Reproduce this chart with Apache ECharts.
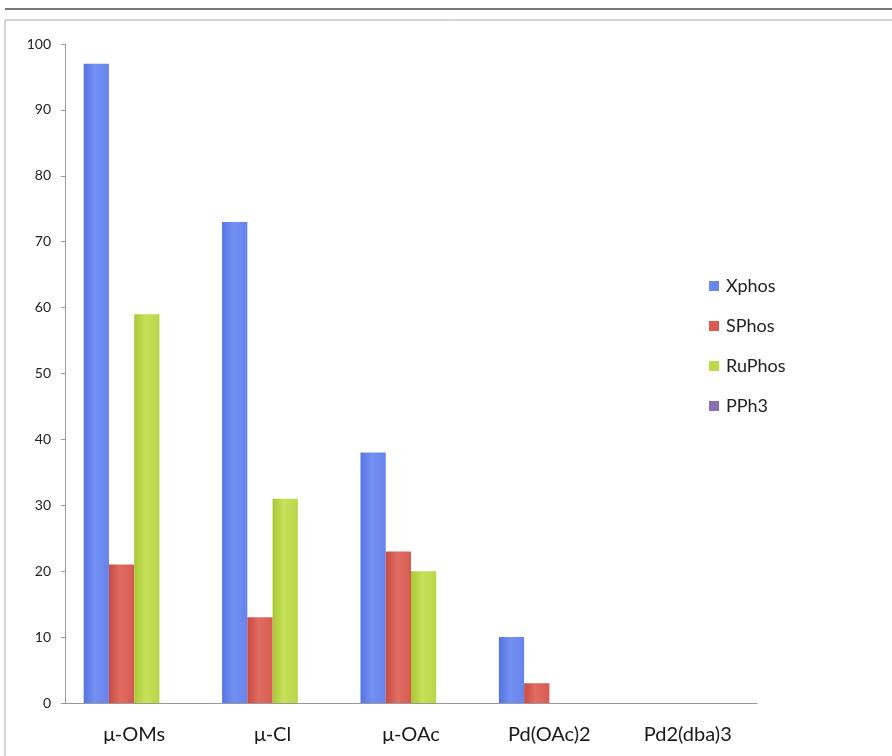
<!DOCTYPE html>
<html><head><meta charset="utf-8">
<script src="https://cdn.jsdelivr.net/npm/echarts@6/dist/echarts.min.js"></script>
<style>html,body{margin:0;padding:0;background:#fff}#c{width:892px;height:756px}</style>
</head><body><div id="c"></div>
<script>
const categories = ['μ-OMs', 'μ-Cl', 'μ-OAc', 'Pd(OAc)2', 'Pd2(dba)3'];
const seriesNames = ['Xphos', 'SPhos', 'RuPhos', 'PPh3'];
const xphos = [97, 73, 38, 10, 0];
const sphos = [21, 13, 23, 3, 0];
const ruphos = [59, 31, 20, 0, 0];
const pph3 = [0, 0, 0, 0, 0];
const yTicks = [0, 10, 20, 30, 40, 50, 60, 70, 80, 90, 100];

const grads = [
  ['#5574e2', '#7391f2', '#6583ec'],
  ['#c84a40', '#e06c62', '#d65b52'],
  ['#a9c834', '#c6e15a', '#b9d648'],
  ['#6f559c', '#9479bc', '#8268ac']
];
const legendColors = ['#6b86ee', '#dc5a52', '#bcd94a', '#8a6fb6'];
function grad(g){
  return new echarts.graphic.LinearGradient(0,0,1,0,[
    {offset:0,color:g[0]},{offset:0.45,color:g[1]},{offset:1,color:g[2]}]);
}
const dataSets = [xphos, sphos, ruphos, pph3];
const chart = echarts.init(document.getElementById('c'));
chart.setOption({
  animation:false,
  backgroundColor:'#fff',
  grid:{left:65,right:135,top:44,bottom:53},
  legend:{
    orient:'vertical', left:704, top:272, itemGap:22, itemWidth:10, itemHeight:10,
    icon:'rect',
    textStyle:{fontFamily:'Lato', fontSize:18, color:'#222', padding:[0,0,0,2]},
    data: seriesNames.map((n,i)=>({name:n, itemStyle:{color:legendColors[i]}}))
  },
  xAxis:{
    type:'category', data:categories,
    axisLine:{lineStyle:{color:'#999'}},
    axisTick:{length:6, lineStyle:{color:'#999'}},
    axisLabel:{fontFamily:'Lato', fontSize:20, color:'#1a1a1a', margin:22}
  },
  yAxis:{
    type:'value', min:0, max:100, interval:10,
    axisLine:{show:true, lineStyle:{color:'#999'}},
    axisTick:{show:true, length:4, lineStyle:{color:'#999'}},
    splitLine:{show:false},
    axisLabel:{fontFamily:'Lato', fontSize:14, color:'#222', margin:14,
      formatter:v=>yTicks.includes(v)?String(v):''}
  },
  graphic:[
    {type:'line', shape:{x1:5,y1:9,x2:892,y2:9}, style:{stroke:'#777', lineWidth:2}},
    {type:'line', shape:{x1:5,y1:20,x2:892,y2:20}, style:{stroke:'#aaa', lineWidth:1}},
    {type:'line', shape:{x1:5,y1:20,x2:5,y2:756}, style:{stroke:'#aaa', lineWidth:1}}
  ],
  series: seriesNames.map((n,i)=>({
    name:n, type:'bar', data:dataSets[i],
    barGap:'0%', barCategoryGap:'27%',
    itemStyle:{color:grad(grads[i])}
  }))
});
</script></body></html>
